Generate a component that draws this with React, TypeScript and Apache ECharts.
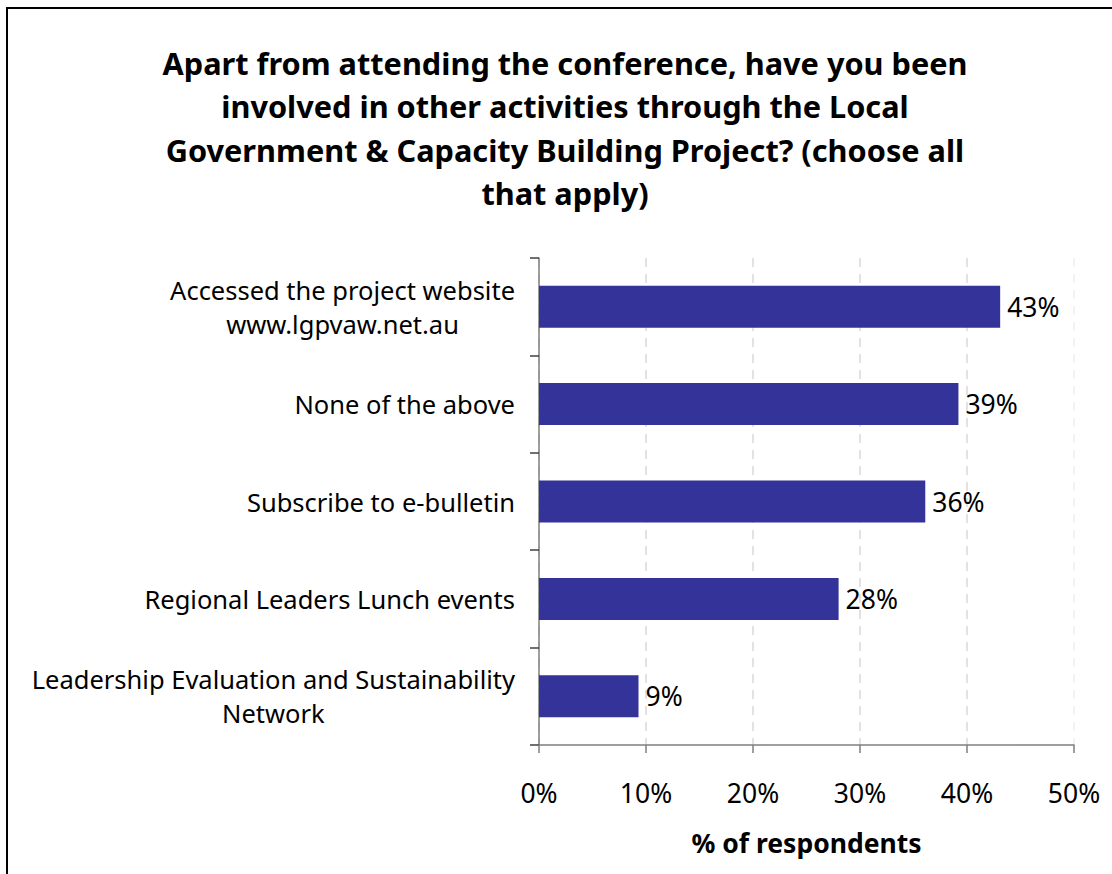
import React, { useEffect, useRef } from "react";
import * as echarts from "echarts";

const categories = [
  "Accessed the project website\nwww.lgpvaw.net.au",
  "None of the above",
  "Subscribe to e-bulletin",
  "Regional Leaders Lunch events",
  "Leadership Evaluation and Sustainability\nNetwork",
];
const values = [43.1, 39.2, 36.1, 28.0, 9.3];
const xTicks = { min: 0, max: 50, interval: 10 };
const titleText =
  "Apart from attending the conference, have you been\ninvolved in other activities through the Local\nGovernment & Capacity Building Project? (choose all\nthat apply)";
const axisName = "% of respondents";

const FONT = "'Noto Sans', 'Open Sans', sans-serif";

export default function App() {
  const ref = useRef<HTMLDivElement>(null);
  useEffect(() => {
    if (!ref.current) return;
    const chart = echarts.init(ref.current, undefined, { renderer: "svg" });
    chart.setOption({
      animation: false,
      backgroundColor: "#ffffff",
      title: {
        text: titleText,
        left: 560,
        top: 36,
        textAlign: "center",
        textStyle: {
          fontFamily: FONT,
          fontSize: 30.7,
          fontWeight: "bold",
          color: "#000",
          lineHeight: 43.5,
        },
      },
      graphic: [
        {
          type: "rect",
          shape: { x: 7, y: 8, width: 1300, height: 1000 },
          style: { fill: "none", stroke: "#000", lineWidth: 2 },
          silent: true,
        },
      ],
      grid: { left: 539, right: 38, top: 258, bottom: 129, containLabel: false },
      xAxis: {
        type: "value",
        min: xTicks.min,
        max: xTicks.max,
        interval: xTicks.interval,
        name: axisName,
        nameLocation: "middle",
        nameGap: 84,
        nameTextStyle: { fontFamily: FONT, fontSize: 26.5, fontWeight: "bold", color: "#000" },
        axisLine: { show: true, lineStyle: { color: "#7f7f7f", width: 1.5 } },
        axisTick: { show: true, length: 8, lineStyle: { color: "#7f7f7f", width: 1.5 } },
        axisLabel: {
          formatter: "{value}%",
          margin: 34,
          fontFamily: FONT,
          fontSize: 26.5,
          color: "#000",
        },
        splitLine: {
          show: true,
          lineStyle: {
            color: ["#d9d9d9", "#d9d9d9", "#d9d9d9", "#d9d9d9", "#d9d9d9", "#f0f0f0"],
            type: [9, 7],
            width: 1.5,
          },
        },
      },
      yAxis: {
        type: "category",
        data: categories,
        inverse: true,
        axisLine: { show: true, lineStyle: { color: "#7f7f7f", width: 1.5 } },
        axisTick: { show: true, length: 9, lineStyle: { color: "#404040", width: 1.5 } },
        axisLabel: {
          margin: 24,
          formatter: (v: string) =>
            v
              .split("\n")
              .map((l) => `{c|${l}}`)
              .join("\n"),
          rich: {
            c: {
              align: "center",
              fontFamily: FONT,
              fontSize: 25.5,
              color: "#000",
              lineHeight: 34,
            },
          },
        },
      },
      series: [
        {
          type: "bar",
          data: values,
          barWidth: 42,
          itemStyle: { color: "#333399" },
          label: {
            show: true,
            position: "right",
            distance: 7,
            formatter: (p: any) => `${Math.round(p.value)}%`,
            fontFamily: FONT,
            fontSize: 26.5,
            color: "#000",
          },
        },
      ],
    });
    return () => chart.dispose();
  }, []);
  return (
    <div
      ref={ref}
      style={{ position: "fixed", left: 0, top: 0, width: 1112, height: 874 }}
    />
  );
}
